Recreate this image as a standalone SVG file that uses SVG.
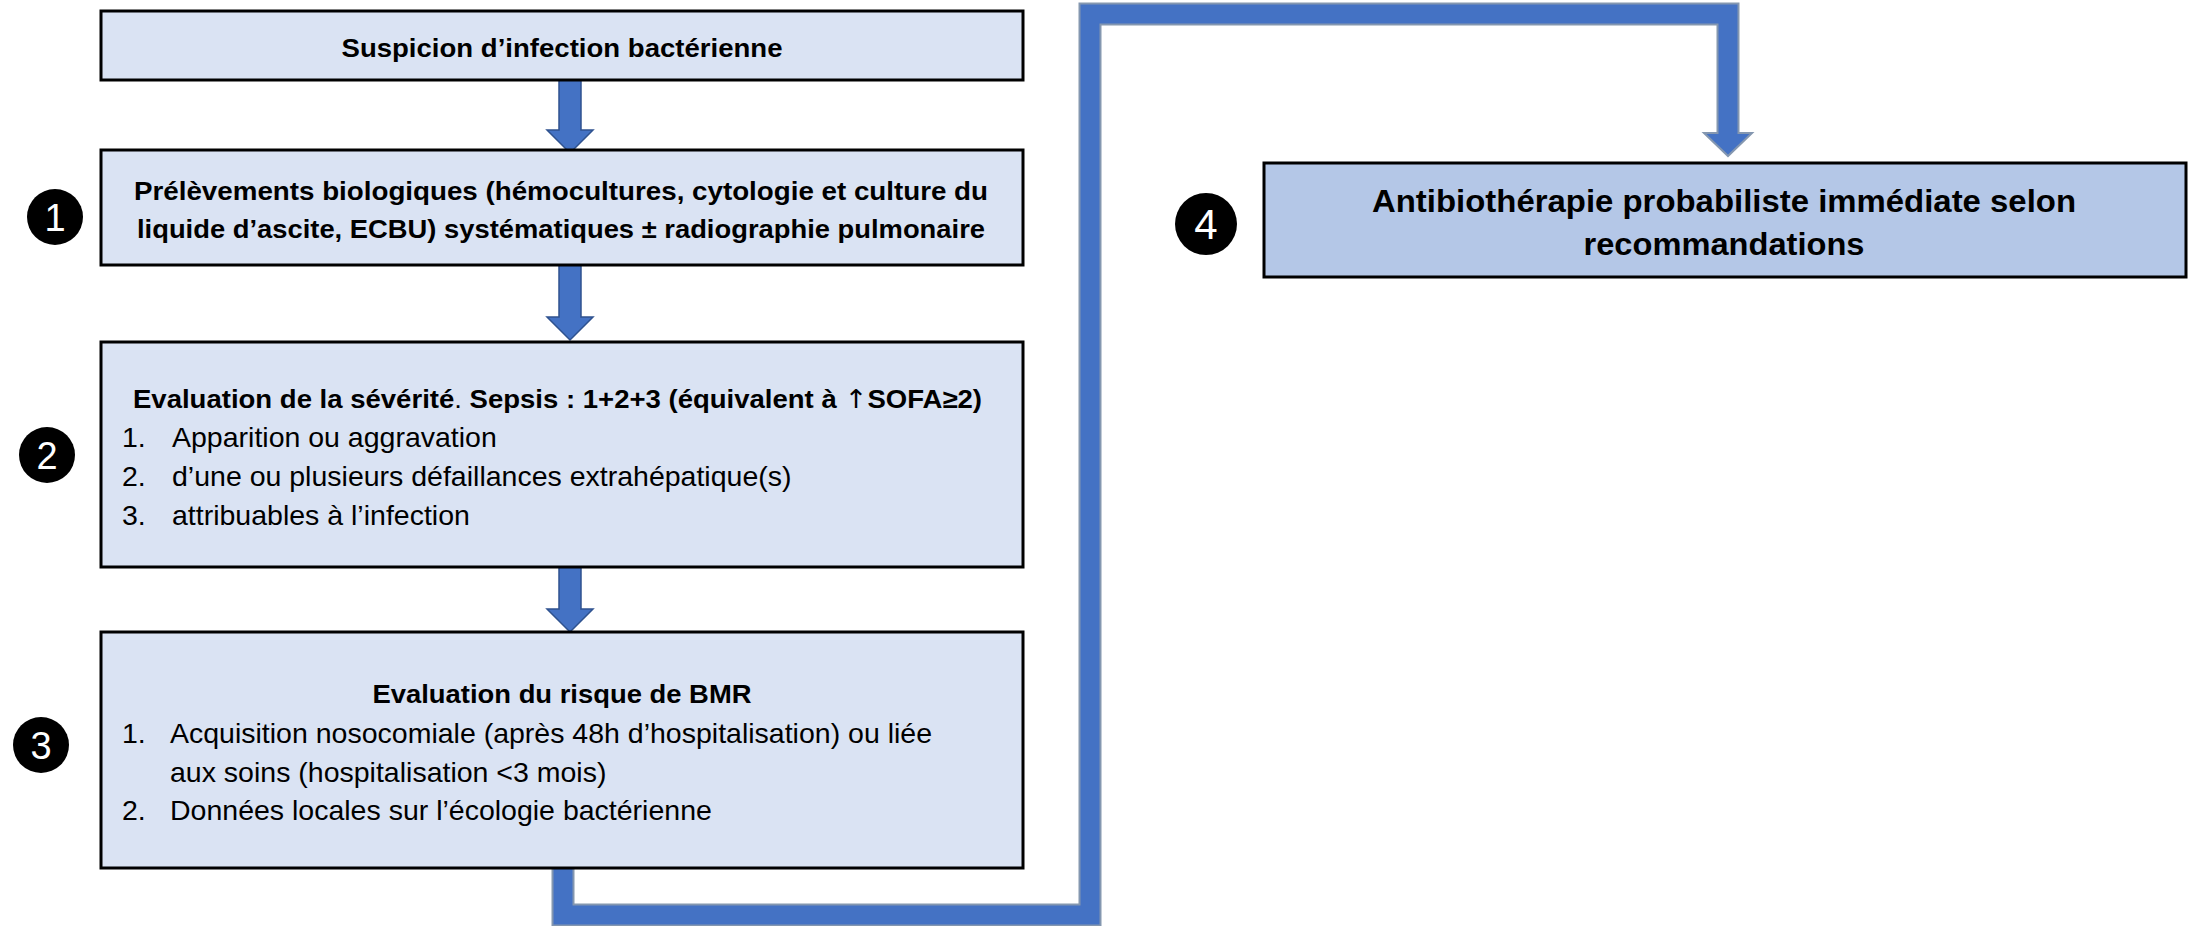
<svg xmlns="http://www.w3.org/2000/svg" width="2188" height="926" viewBox="0 0 2188 926">
<style>
.box{fill:#dae3f3;stroke:#000;stroke-width:3}
.box5{fill:#b4c7e7;stroke:#000;stroke-width:3}
.t{font-family:"Liberation Sans",Arial,sans-serif;fill:#000}
.b{font-weight:bold;font-size:26px}
.r{font-size:28.5px}
.arr{fill:#4472c4;stroke:#2f528f;stroke-width:1.5}
.num{fill:#000}
.nt{font-family:"Liberation Sans",Arial,sans-serif;fill:#fff;text-anchor:middle}
</style>
<rect width="2188" height="926" fill="#fff"/>
<g id="connectors">
  <polygon class="arr" points="559,80 581,80 581,130 593,130 570,153 547,130 559,130"/>
  <polygon class="arr" points="559,265 581,265 581,317 593,317 570,340 547,317 559,317"/>
  <polygon class="arr" points="559,567 581,567 581,609 593,609 570,632 547,609 559,609"/>
  <path d="M563,866 V915 H1090 V14 H1728 V135" fill="none" stroke="#8497b0" stroke-width="23" stroke-linejoin="miter"/>
  <polygon points="1704,133 1752,133 1728,156" fill="#4472c4" stroke="#8497b0" stroke-width="2" stroke-linejoin="miter"/>
  <path d="M563,866 V915 H1090 V14 H1728 V136" fill="none" stroke="#4472c4" stroke-width="19" stroke-linejoin="miter"/>
</g>
<g id="node-suspicion">
  <rect class="box" x="101" y="11" width="922" height="69"/>
  <text class="t b" x="562" y="57" text-anchor="middle" textLength="441" lengthAdjust="spacingAndGlyphs">Suspicion d’infection bactérienne</text>
</g>
<g id="node-prelevements">
  <rect class="box" x="101" y="150" width="922" height="115"/>
  <text class="t b" x="134" y="200" textLength="854" lengthAdjust="spacingAndGlyphs">Prélèvements biologiques (hémocultures, cytologie et culture du</text>
  <text class="t b" x="137" y="238" textLength="848" lengthAdjust="spacingAndGlyphs">liquide d’ascite, ECBU) systématiques ± radiographie pulmonaire</text>
</g>
<g id="node-severite">
  <rect class="box" x="101" y="342" width="922" height="225"/>
  <text class="t b" x="133" y="408" textLength="849" lengthAdjust="spacingAndGlyphs">Evaluation de la sévérité<tspan font-weight="normal">.</tspan> Sepsis : 1+2+3 (équivalent à <tspan font-family="'DejaVu Sans',sans-serif" font-weight="normal">↑</tspan>SOFA≥2)</text>
  <text class="t r" x="122" y="447">1.</text>
  <text class="t r" x="172" y="447">Apparition ou aggravation</text>
  <text class="t r" x="122" y="486">2.</text>
  <text class="t r" x="172" y="486">d’une ou plusieurs défaillances extrahépatique(s)</text>
  <text class="t r" x="122" y="525">3.</text>
  <text class="t r" x="172" y="525">attribuables à l’infection</text>
</g>
<g id="node-bmr">
  <rect class="box" x="101" y="632" width="922" height="236"/>
  <text class="t b" x="562" y="703" text-anchor="middle" textLength="379" lengthAdjust="spacingAndGlyphs">Evaluation du risque de BMR</text>
  <text class="t r" x="122" y="743">1.</text>
  <text class="t r" x="170" y="743">Acquisition nosocomiale (après 48h d’hospitalisation) ou liée</text>
  <text class="t r" x="170" y="782">aux soins (hospitalisation &lt;3 mois)</text>
  <text class="t r" x="122" y="820">2.</text>
  <text class="t r" x="170" y="820">Données locales sur l’écologie bactérienne</text>
</g>
<g id="node-antibio">
  <rect class="box5" x="1264" y="163" width="922" height="114"/>
  <text class="t" x="1724" y="212" text-anchor="middle" font-size="32" font-weight="bold" textLength="704" lengthAdjust="spacingAndGlyphs">Antibiothérapie probabiliste immédiate selon</text>
  <text class="t" x="1724" y="255" text-anchor="middle" font-size="32" font-weight="bold" textLength="281" lengthAdjust="spacingAndGlyphs">recommandations</text>
</g>
<g id="badge-1">
  <circle class="num" cx="55" cy="217" r="28"/>
  <text class="nt" x="55" y="231" font-size="38">1</text>
</g>
<g id="badge-2">
  <circle class="num" cx="47" cy="455" r="28"/>
  <text class="nt" x="47" y="469" font-size="38">2</text>
</g>
<g id="badge-3">
  <circle class="num" cx="41" cy="745" r="28"/>
  <text class="nt" x="41" y="759" font-size="38">3</text>
</g>
<g id="badge-4">
  <circle class="num" cx="1206" cy="224" r="31"/>
  <text class="nt" x="1206" y="239" font-size="42">4</text>
</g>
</svg>
